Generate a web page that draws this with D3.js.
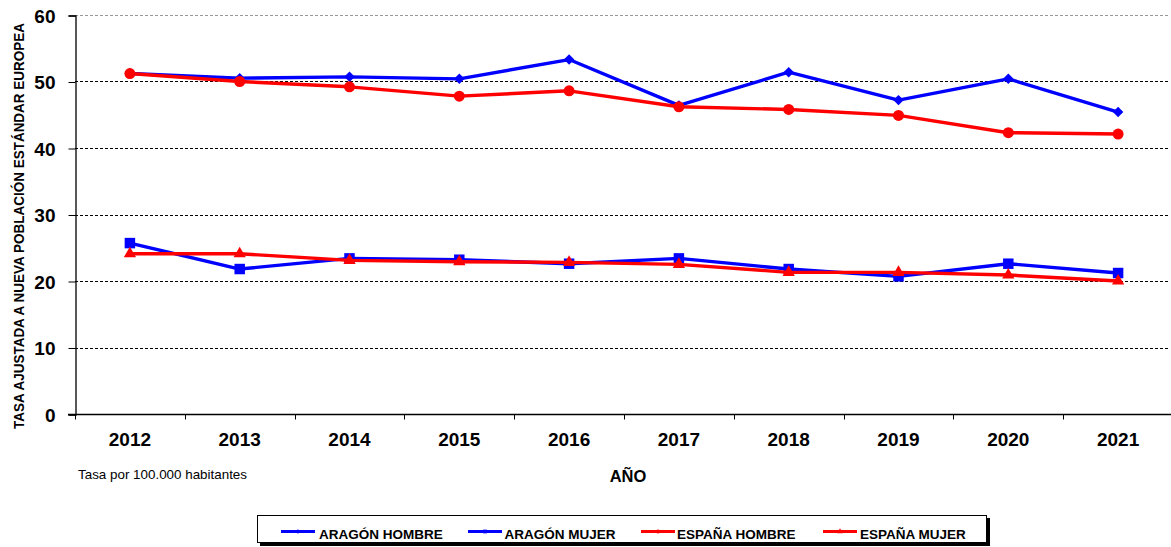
<!DOCTYPE html>
<html>
<head>
  <meta charset="utf8">
  <title>Tasa ajustada</title>
  <style type="text/css">
    body { margin: 0; background: #fff; font-family: "Liberation Sans", Arial, sans-serif; }
    .grid line { stroke-dasharray: 3 2; stroke-width: 1; }
  </style>
</head>
<body>
<script src="https://d3js.org/d3.v7.min.js"></script>
<script type="text/javascript">
var width = 1171, height = 547;

// datos
var years = ['2012', '2013', '2014', '2015', '2016', '2017', '2018', '2019', '2020', '2021'];
var aragonHombre = [51.2, 50.5, 50.7, 50.4, 53.3, 46.4, 51.4, 47.2, 50.4, 45.4];
var aragonMujer = [25.7, 21.8, 23.4, 23.2, 22.6, 23.4, 21.8, 20.7, 22.6, 21.2];
var espanaHombre = [51.2, 50.0, 49.2, 47.8, 48.6, 46.2, 45.8, 44.9, 42.3, 42.1];
var espanaMujer = [24.1, 24.1, 23.1, 22.9, 22.8, 22.5, 21.3, 21.3, 20.9, 20.0];
var yTicks = [0, 10, 20, 30, 40, 50, 60];
var seriesNames = ['ARAGÓN HOMBRE', 'ARAGÓN MUJER', 'ESPAÑA HOMBRE', 'ESPAÑA MUJER'];

var series = [
  { name: seriesNames[0], values: aragonHombre, color: '#0000ff', symbol: d3.symbolDiamond2, size: 70 },
  { name: seriesNames[1], values: aragonMujer, color: '#0000ff', symbol: d3.symbolSquare, size: 110 },
  { name: seriesNames[2], values: espanaHombre, color: '#ff0000', symbol: d3.symbolCircle, size: 95 },
  { name: seriesNames[3], values: espanaMujer, color: '#ff0000', symbol: d3.symbolTriangle, size: 65 }
];

var svg = d3.select('body').append('svg')
  .attr('width', width)
  .attr('height', height);

var plotLeft = 75, plotRight = 1173, plotTop = 15, plotBottom = 414;

var x = d3.scaleBand().domain(years).range([plotLeft, plotRight]);
var y = d3.scaleLinear().domain([0, 60]).range([plotBottom, plotTop]);
var cx = function(i) { return x(years[i]) + x.bandwidth() / 2; };

// grid
var grid = svg.append('g').attr('class', 'grid');
grid.selectAll('line').data(yTicks.filter(function(d) { return d > 0; }))
  .enter().append('line')
  .attr('x1', plotLeft).attr('x2', 1168)
  .attr('y1', function(d) { return Math.round(y(d)) + 0.5; })
  .attr('y2', function(d) { return Math.round(y(d)) + 0.5; })
  .attr('stroke', function(d) { return d === 60 ? '#999' : '#000'; });

// y axis
var yAxis = svg.append('g')
  .attr('transform', 'translate(' + (plotLeft + 0.5) + ',0.5)')
  .call(d3.axisLeft(y).tickValues(yTicks).tickSize(7).tickPadding(13));
yAxis.select('.domain').attr('stroke', '#000').attr('stroke-width', 1.3);
yAxis.selectAll('.tick line').attr('stroke', '#000');
yAxis.selectAll('text')
  .attr('fill', '#000')
  .attr('dy', '0.36em')
  .style('font-family', '"Liberation Sans", Arial, sans-serif')
  .style('font-weight', 'bold').style('font-size', '19px');

// x axis
var xAxis = svg.append('g')
  .attr('transform', 'translate(0,' + (plotBottom + 0.5) + ')');
xAxis.append('line').attr('x1', plotLeft - 7).attr('x2', plotRight)
  .attr('stroke', '#000').attr('stroke-width', 1.3);
xAxis.selectAll('.tk').data(d3.range(years.length + 1))
  .enter().append('line')
  .attr('x1', function(i) { return Math.round(plotLeft + i * x.bandwidth()) + 0.5; })
  .attr('x2', function(i) { return Math.round(plotLeft + i * x.bandwidth()) + 0.5; })
  .attr('y1', 0).attr('y2', 5).attr('stroke', '#000');
xAxis.selectAll('text').data(years)
  .enter().append('text')
  .attr('x', function(d, i) { return cx(i); })
  .attr('y', 31)
  .attr('text-anchor', 'middle')
  .style('font-weight', 'bold').style('font-size', '19px')
  .text(function(d) { return d; });

// lines
var line = d3.line()
  .x(function(d, i) { return cx(i); })
  .y(function(d) { return y(d); });

series.forEach(function(s) {
  var g = svg.append('g');
  g.append('path')
    .datum(s.values)
    .attr('d', line)
    .attr('fill', 'none')
    .attr('stroke', s.color)
    .attr('stroke-width', 3.4)
    .attr('stroke-linejoin', 'round');
  g.selectAll('path.m').data(s.values)
    .enter().append('path')
    .attr('class', 'm')
    .attr('d', d3.symbol().type(s.symbol).size(s.size))
    .attr('fill', s.color)
    .attr('transform', function(d, i) {
      return 'translate(' + cx(i) + ',' + y(d) + ')';
    });
});

// y label
svg.append('text')
  .attr('transform', 'translate(23.5,226) rotate(-90)')
  .attr('text-anchor', 'middle')
  .attr('textLength', 406)
  .attr('lengthAdjust', 'spacingAndGlyphs')
  .style('font-weight', 'bold').style('font-size', '14px')
  .text('TASA AJUSTADA A NUEVA POBLACIÓN ESTÁNDAR  EUROPEA');

svg.append('text')
  .attr('x', 78).attr('y', 479)
  .style('font-size', '13.4px')
  .text('Tasa por 100.000 habitantes');

svg.append('text')
  .attr('x', 628).attr('y', 482)
  .attr('text-anchor', 'middle')
  .style('font-weight', 'bold').style('font-size', '16.5px')
  .text('AÑO');

// legend
var lg = svg.append('g');
lg.append('rect').attr('x', 260).attr('y', 518).attr('width', 730).attr('height', 28).attr('fill', '#000');
lg.append('rect').attr('x', 257.5).attr('y', 515.5).attr('width', 729).attr('height', 27)
  .attr('fill', '#fff').attr('stroke', '#000').attr('stroke-width', 1);
var legLine = [281, 468, 641, 823];
var legText = [319, 504.5, 677, 860];
series.forEach(function(s, i) {
  var gx = legLine[i];
  lg.append('line').attr('x1', gx).attr('x2', gx + 34).attr('y1', 531.5).attr('y2', 531.5)
    .attr('stroke', s.color).attr('stroke-width', 3.2);
  lg.append('path').attr('d', d3.symbol().type(s.symbol).size(14))
    .attr('fill', s.color).attr('transform', 'translate(' + (gx + 17) + ',531.5)');
  lg.append('text').attr('x', legText[i]).attr('y', 538.5)
    .style('font-weight', 'bold').style('font-size', '13.5px')
    .text(s.name);
});
</script>
</body>
</html>
